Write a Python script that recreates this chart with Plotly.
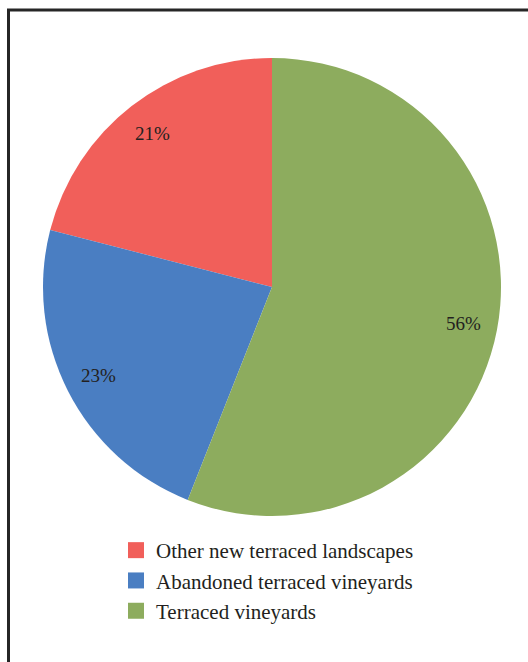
import math
import plotly.graph_objects as go

# Share of terraced land by category (percent)
labels = ["Other new terraced landscapes", "Abandoned terraced vineyards", "Terraced vineyards"]
values = [21, 23, 56]
colors = ["#F15F5A", "#4A7EC2", "#8DAC5E"]

W, H = 528, 662
FONT = "Liberation Serif"
TEXT = "#231F20"

# Pie placement in pixels (centre and radius)
cx, cy, R = 272, 287, 229

total = sum(values)

fig = go.Figure(
    go.Pie(
        labels=labels,
        values=values,
        sort=False,
        direction="counterclockwise",
        # slices run counterclockwise, the first one starting at 12 o'clock
        rotation=-360 * values[0] / total,
        marker=dict(colors=colors, line=dict(width=0)),
        textinfo="none",
        domain=dict(x=[(cx - R) / W, (cx + R) / W], y=[1 - (cy + R) / H, 1 - (cy - R) / H]),
        hoverinfo="skip",
        showlegend=False,
    )
)

# Legend entries with larger square swatches
for name, col in zip(labels, colors):
    fig.add_trace(
        go.Scatter(
            x=[None],
            y=[None],
            mode="markers",
            name=name,
            marker=dict(symbol="square", size=16, color=col, line=dict(width=0)),
            hoverinfo="skip",
        )
    )

# Percentage labels placed near the rim of each slice, at its mid-angle
start = 0.0
annotations = []
for v in values:
    mid = start + v / 2
    start += v
    ang = 2 * math.pi * mid / total  # counterclockwise from 12 o'clock
    px = cx - 0.85 * R * math.sin(ang)
    py = cy - 0.85 * R * math.cos(ang)
    annotations.append(
        dict(
            x=px / W,
            y=1 - py / H,
            xref="paper",
            yref="paper",
            text=f"{v}%",
            showarrow=False,
            font=dict(family=FONT, size=19, color=TEXT),
            xanchor="center",
            yanchor="middle",
        )
    )

fig.update_layout(
    width=W,
    height=H,
    margin=dict(l=0, r=0, t=0, b=0),
    paper_bgcolor="white",
    plot_bgcolor="white",
    xaxis=dict(visible=False),
    yaxis=dict(visible=False),
    showlegend=True,
    annotations=annotations,
    legend=dict(
        x=116 / W,
        y=1 - 530 / H,
        xanchor="left",
        yanchor="top",
        font=dict(family=FONT, size=21, color=TEXT),
        tracegroupgap=0,
        bgcolor="rgba(0,0,0,0)",
    ),
    shapes=[
        dict(
            type="rect",
            xref="paper",
            yref="paper",
            x0=8.5 / W,
            x1=1.05,
            y0=-0.05,
            y1=1 - 10 / H,
            line=dict(color="#262626", width=3),
            fillcolor="rgba(0,0,0,0)",
            layer="above",
        )
    ],
)

fig.write_html("out.html")
